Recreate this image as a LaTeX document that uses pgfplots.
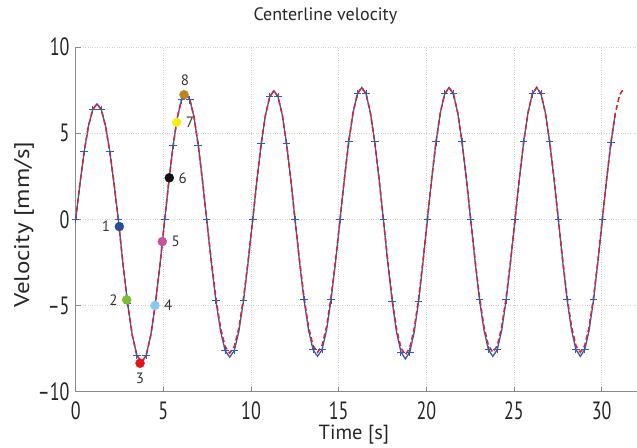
\documentclass[border=0pt]{standalone}
\usepackage{fontspec}
\setmainfont{PT Sans}
\newfontfamily\tickfont[FakeStretch=0.72]{PT Sans}
\usepackage{pgfplots}
\usepackage{pgfplotstable}
\pgfplotsset{compat=1.18}
\definecolor{vblue}{HTML}{3A58AE}
\definecolor{vred}{HTML}{D22A35}
\definecolor{axgray}{HTML}{8A8A8A}
\definecolor{pA}{HTML}{2B4C9B}
\definecolor{pB}{HTML}{7CBF2E}
\definecolor{pC}{HTML}{E3121B}
\definecolor{pD}{HTML}{8CC7EC}
\definecolor{pE}{HTML}{C4549E}
\definecolor{pF}{HTML}{111111}
\definecolor{pG}{HTML}{F2EE1E}
\definecolor{pH}{HTML}{B7861E}

% t [s], v = measured (blue), r = model (red dashed)
\pgfplotstableread{
t v r
0 0 0
0.243 2.07 2.07
0.486 3.94 3.94
0.729 5.42 5.42
0.972 6.37 6.37
1.215 6.70 6.70
1.458 6.37 6.37
1.701 5.42 5.42
1.944 3.94 3.94
2.187 2.07 2.07
2.43 0 0
2.695 -2.56 -2.56
2.96 -4.88 -4.88
3.225 -6.71 -6.71
3.49 -7.89 -7.89
3.755 -8.30 -8.30
4.02 -7.89 -7.89
4.285 -6.71 -6.71
4.55 -4.88 -4.88
4.815 -2.56 -2.56
5.08 0 0
5.319 2.26 2.26
5.558 4.29 4.29
5.797 5.91 5.91
6.036 6.94 6.94
6.275 7.30 7.30
6.514 6.94 6.94
6.753 5.91 5.91
6.992 4.29 4.29
7.231 2.26 2.26
7.47 0 0
7.733 -2.47 -2.40
7.996 -4.70 -4.56
8.259 -6.47 -6.28
8.522 -7.61 -7.38
8.785 -8.00 -7.76
9.048 -7.61 -7.38
9.311 -6.47 -6.28
9.574 -4.70 -4.56
9.837 -2.47 -2.40
10.10 0 0
10.341 2.31 2.31
10.582 4.39 4.39
10.823 6.04 6.04
11.064 7.10 7.10
11.305 7.47 7.47
11.546 7.10 7.10
11.787 6.04 6.04
12.028 4.39 4.39
12.269 2.31 2.31
12.51 0 0
12.767 -2.46 -2.38
13.024 -4.67 -4.53
13.281 -6.43 -6.24
13.538 -7.56 -7.33
13.795 -7.95 -7.71
14.052 -7.56 -7.33
14.309 -6.43 -6.24
14.566 -4.67 -4.53
14.823 -2.46 -2.38
15.08 0 0
15.327 2.36 2.36
15.574 4.50 4.50
15.821 6.19 6.19
16.068 7.28 7.28
16.315 7.65 7.65
16.562 7.28 7.28
16.809 6.19 6.19
17.056 4.50 4.50
17.303 2.36 2.36
17.55 0 0
17.801 -2.50 -2.43
18.052 -4.76 -4.62
18.303 -6.55 -6.36
18.554 -7.70 -7.47
18.805 -8.10 -7.86
19.056 -7.70 -7.47
19.307 -6.55 -6.36
19.558 -4.76 -4.62
19.809 -2.50 -2.43
20.06 0 0
20.307 2.36 2.36
20.554 4.50 4.50
20.801 6.19 6.19
21.048 7.28 7.28
21.295 7.65 7.65
21.542 7.28 7.28
21.789 6.19 6.19
22.036 4.50 4.50
22.283 2.36 2.36
22.53 0 0
22.783 -2.46 -2.38
23.036 -4.67 -4.53
23.289 -6.43 -6.24
23.542 -7.56 -7.33
23.795 -7.95 -7.71
24.048 -7.56 -7.33
24.301 -6.43 -6.24
24.554 -4.67 -4.53
24.807 -2.46 -2.38
25.06 0 0
25.307 2.36 2.36
25.554 4.50 4.50
25.801 6.19 6.19
26.048 7.28 7.28
26.295 7.65 7.65
26.542 7.28 7.28
26.789 6.19 6.19
27.036 4.50 4.50
27.283 2.36 2.36
27.53 0 0
27.781 -2.46 -2.38
28.032 -4.67 -4.53
28.283 -6.43 -6.24
28.534 -7.56 -7.33
28.785 -7.95 -7.71
29.036 -7.56 -7.33
29.287 -6.43 -6.24
29.538 -4.67 -4.53
29.789 -2.46 -2.38
30.04 0 0
30.287 2.35 2.35
30.534 4.47 4.47
30.781 6.15 6.15
31.028 7.23 7.23
31.275 7.60 7.60
}\velo

\begin{document}
\begin{tikzpicture}
\path[use as bounding box] (0pt,0pt) rectangle (637pt,447pt);
\begin{axis}[
  at={(75.7pt,55.3pt)}, anchor=south west,
  scale only axis, width=561pt, height=344.7pt,
  xmin=0, xmax=32, ymin=-10, ymax=10,
  axis x line*=bottom, axis y line*=left,
  axis line style={axgray, line width=0.9pt},
  xtick={0,5,...,30},
  ytick={-10,-5,0,5,10},
  yticklabels={–10,–5,0,5,10},
  /pgf/number format/assume math mode=true,
  tick align=inside, major tick length=5pt,
  tick style={axgray, line width=0.8pt},
  tick label style={font=\tickfont\fontsize{25}{25}\selectfont, text=black!85, inner sep=0pt},
  xticklabel style={anchor=north, yshift=-10pt},
  yticklabel style={anchor=east, xshift=-6pt},
  grid=major,
  major grid style={dotted, gray!35, line width=0.6pt},
  xlabel={Time [s]},
  ylabel={\scalebox{1}[0.85]{Velocity [mm/s]}},
  xlabel style={font=\fontsize{20.5}{20.5}\selectfont, text=black!85, at={(axis description cs:0.496,0)}, anchor=base, yshift=-48.3pt, inner sep=0pt},
  ylabel style={font=\fontsize{25}{25}\selectfont, text=black!85, at={(axis description cs:-0.0922,0.485)}, anchor=center, inner sep=0pt},
  title={Centerline velocity},
  title style={font=\fontsize{18}{18}\selectfont, text=black!85, at={(axis description cs:0.445,1)}, anchor=base, yshift=20pt, inner sep=0pt},
  clip=false,
]
\addplot[vblue, line width=1.3pt, mark=+, mark repeat=2,
  mark options={line width=1pt, mark size=3.8pt},
  restrict x to domain=0:30.8] table[x=t, y=v] {\velo};
\addplot[vred, line width=1.6pt, dash pattern=on 5pt off 3pt] table[x=t, y=r] {\velo};

\tikzset{lbl/.style={font=\fontsize{15}{15}\selectfont, text=black!80, inner sep=0pt}}
\addplot[only marks, mark=*, mark size=4.5pt, pA, mark options={draw=pA, fill=pA}] coordinates {(2.49,-0.42)} node[lbl, left=9pt] {1};
\addplot[only marks, mark=*, mark size=4.5pt, pB, mark options={draw=pB, fill=pB}] coordinates {(2.91,-4.67)} node[lbl, left=9pt] {2};
\addplot[only marks, mark=*, mark size=4.5pt, pC, mark options={draw=pC, fill=pC}] coordinates {(3.67,-8.35)} node[lbl, below=10pt] {3};
\addplot[only marks, mark=*, mark size=4.5pt, pD, mark options={draw=pD, fill=pD}] coordinates {(4.52,-5.0)} node[lbl, right=9pt] {4};
\addplot[only marks, mark=*, mark size=4.5pt, pE, mark options={draw=pE, fill=pE}] coordinates {(4.94,-1.29)} node[lbl, right=9pt] {5};
\addplot[only marks, mark=*, mark size=4.5pt, pF, mark options={draw=pF, fill=pF}] coordinates {(5.34,2.41)} node[lbl, right=9pt] {6};
\addplot[only marks, mark=*, mark size=4.5pt, pG, mark options={draw=pG, fill=pG}] coordinates {(5.76,5.63)} node[lbl, right=9pt] {7};
\addplot[only marks, mark=*, mark size=4.5pt, pH, mark options={draw=pH, fill=pH}] coordinates {(6.18,7.23)} node[lbl, above=9pt, xshift=1pt] {8};
\end{axis}
\end{tikzpicture}
\end{document}
